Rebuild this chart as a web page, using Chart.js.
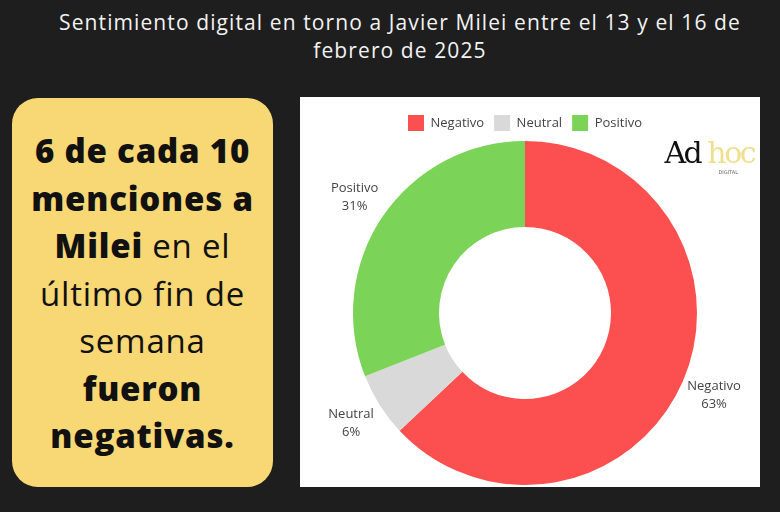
<!DOCTYPE html>
<html>
<head>
<meta charset="utf-8">
<script src="https://cdn.jsdelivr.net/npm/chart.js@4.4.1/dist/chart.umd.min.js"></script>
<style>
  html, body { margin:0; padding:0; }
  body { width:780px; height:512px; background:#1e1e1e; position:relative; overflow:hidden; font-family:"Open Sans", sans-serif; }
  .title { position:absolute; left:10px; top:8px; width:780px; text-align:center; color:#f2f2f2; font-size:21px; line-height:28px; font-weight:400; letter-spacing:1.1px; }
  .box { position:absolute; left:12px; top:98px; width:261px; height:389px; background:#f8d775; border-radius:26px; }
  .box p { margin:0; position:absolute; left:0; top:29px; width:100%; text-align:center; color:#111; font-size:33px; line-height:47.5px; letter-spacing:0.8px; font-family:"Open Sans", sans-serif; }
  .box b { font-weight:800; }
  .panel { position:absolute; left:300px; top:97px; width:460px; height:390px; background:#fff; }
  .logo { position:absolute; right:6px; top:38px; font-family:"DejaVu Serif", serif; font-size:30px; letter-spacing:-2.5px; white-space:nowrap; }
  .logo .ad { color:#111; }
  .logo .hoc { color:#f0df8c; }
  .logo .dig { position:absolute; left:54px; top:34px; font-family:"DejaVu Sans", sans-serif; font-size:5px; color:#666; letter-spacing:0; }
</style>
</head>
<body>
<div class="title">Sentimiento digital en torno a Javier Milei entre el 13 y el 16 de<br>febrero de 2025</div>
<div class="box"><p><b>6 de cada 10<br>menciones a<br>Milei</b> en el<br>último fin de<br>semana<br><b>fueron<br>negativas.</b></p></div>
<div class="panel">
  <canvas id="grafico" width="460" height="390"></canvas>
  <div class="logo"><span class="ad">Ad</span> <span class="hoc">hoc</span><span class="dig">DIGITAL</span></div>
</div>
<script>
const etiquetas = ['Negativo', 'Neutral', 'Positivo'];
const valores = [63, 6, 31];
const colores = ['#fc5050', '#d9d9d9', '#7bd457'];

// etiquetas fuera de cada porcion
const etiquetasFuera = {
    id: 'etiquetasFuera',
    afterDatasetsDraw(chart){
        const ctx = chart.ctx;
        const meta = chart.getDatasetMeta(0);
        const total = valores.reduce((a, b) => a + b, 0);
        ctx.save();
        ctx.font = '13px "Open Sans"';
        ctx.fillStyle = '#444';
        ctx.textAlign = 'center';
        ctx.textBaseline = 'middle';
        meta.data.forEach((arc, i) => {
            const p = arc.getProps(['x', 'y', 'startAngle', 'endAngle', 'outerRadius'], true);
            const mid = (p.startAngle + p.endAngle) / 2;
            const r = p.outerRadius + 34;
            const x = p.x + Math.cos(mid) * r;
            const y = p.y + Math.sin(mid) * r;
            ctx.fillText(etiquetas[i], x, y - 9);
            ctx.fillText(Math.round(valores[i] / total * 100) + '%', x, y + 9);
        });
        ctx.restore();
    }
};

new Chart(document.getElementById('grafico'), {
    type: 'doughnut',
    data: {
        labels: etiquetas,
        datasets: [{
            data: valores,
            backgroundColor: colores,
            borderWidth: 0,
            hoverOffset: 0
        }]
    },
    options: {
        responsive: false,
        animation: false,
        cutout: '50%',
        layout: { padding: { top: 8, bottom: 2, right: 10 } },
        plugins: {
            legend: {
                position: 'top',
                labels: {
                    boxWidth: 16,
                    boxHeight: 16,
                    color: '#444',
                    font: { family: 'Open Sans', size: 13 },
                    padding: 10
                }
            },
            tooltip: { enabled: false }
        }
    },
    plugins: [etiquetasFuera]
});
</script>
</body>
</html>
